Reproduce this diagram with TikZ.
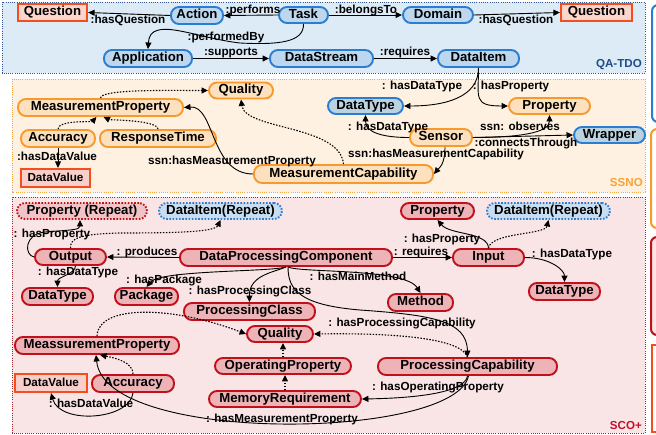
\documentclass[tikz,border=0pt]{standalone}
\usepackage{fontspec}
\setmainfont{Liberation Sans}
\usetikzlibrary{arrows.meta}
\definecolor{qabg}{HTML}{DDEBF7}
\definecolor{qaline}{HTML}{2F5597}
\definecolor{ssbg}{HTML}{FEF1E1}
\definecolor{ssline}{HTML}{F7A541}
\definecolor{scbg}{HTML}{F9E5E6}
\definecolor{scline}{HTML}{A0282E}
\definecolor{blueline}{HTML}{2A7DD1}
\definecolor{bluefill}{HTML}{BDD7EE}
\definecolor{greyfill}{HTML}{BBD3E1}
\definecolor{orangeline}{HTML}{F79A2E}
\definecolor{orangefill}{HTML}{FDE1BF}
\definecolor{redline}{HTML}{C0101A}
\definecolor{redfill}{HTML}{EDB3B7}
\definecolor{reddotfill}{HTML}{F2C3C6}
\definecolor{bluedotfill}{HTML}{C9DDF0}
\definecolor{qline}{HTML}{F24E1E}
\definecolor{qfill}{HTML}{FCD5CC}
\definecolor{dvfill}{HTML}{F9CFCB}
\definecolor{qatext}{HTML}{1F4E8A}
\definecolor{sstext}{HTML}{F7A334}
\definecolor{sctext}{HTML}{C0102A}
\begin{document}
\begin{tikzpicture}[x=1pt,y=-1pt,
  nodebase/.style={inner sep=0pt, text height=9.4pt, text depth=2.6pt, line width=1.9pt,
    font=\bfseries\fontsize{13.2pt}{14pt}\selectfont},
  bluepill/.style={nodebase, draw=blueline, fill=bluefill, rounded corners=8pt},
  greypill/.style={nodebase, draw=blueline, fill=greyfill, rounded corners=8pt},
  orangepill/.style={nodebase, draw=orangeline, fill=orangefill, rounded corners=8pt},
  redpill/.style={nodebase, draw=redline, fill=redfill, rounded corners=8pt},
  reddotpill/.style={redpill, fill=reddotfill, dash pattern=on 1.6pt off 1.6pt},
  bluedotpill/.style={nodebase, draw=blueline, fill=bluedotfill, rounded corners=8pt, dash pattern=on 1.6pt off 1.6pt},
  qrect/.style={nodebase, draw=qline, fill=qfill, line width=2.2pt},
  dvrect/.style={nodebase, draw=qline, fill=dvfill, line width=2.2pt,
    font=\bfseries\fontsize{11.7pt}{13pt}\selectfont, text height=8.4pt, text depth=2.3pt},
  lbl/.style={inner sep=0pt, font=\bfseries\fontsize{11.7pt}{13pt}\selectfont, text height=8.4pt, text depth=2.4pt},
  arr/.style={-{Triangle[length=6.5pt,width=6pt]}, line width=0.9pt, black},
  darr/.style={arr, line width=1.1pt, dash pattern=on 1.5pt off 1.5pt},
  region/.style={line width=0.9pt, dash pattern=on 1pt off 1.2pt},
  regtext/.style={inner sep=0pt, anchor=east, font=\bfseries\fontsize{11.6pt}{13pt}\selectfont},
  legbox/.style={line width=2pt}
]
\useasboundingbox (0,0) rectangle (656,434);
\clip (0,0) rectangle (656,434);
\fill[white] (0,0) rectangle (656,434);

% regions
\draw[region, draw=qaline, fill=qabg] (2,2) rectangle (645,73);
\draw[region, draw=ssline, fill=ssbg] (12,79) rectangle (645,192);
\draw[region, draw=scline, fill=scbg] (12,197) rectangle (645,433);
\node[regtext, text=qatext] (lqa) at (642,64.5) {QA-TDO};
\node[regtext, text=sstext] (lss) at (643,183) {SSNO};
\node[regtext, text=sctext] (lsc) at (642,426) {SCO+};

% partial legend boxes at the right edge
\draw[legbox, draw=blueline, fill=white, rounded corners=6pt] (652,5) rectangle (700,122);
\draw[legbox, draw=orangeline, fill=white, rounded corners=6pt] (651,129) rectangle (700,228);
\draw[legbox, draw=redline, fill=scbg, rounded corners=6pt] (651,237) rectangle (700,335);
\draw[legbox, draw=qline, fill=white] (652,345) rectangle (700,432);

% QA-TDO nodes
\node[qrect, minimum width=69pt, minimum height=17pt] (qL) at (52.5,12.5) {Question};
\node[bluepill, minimum width=52pt, minimum height=17pt] (action) at (197,15.5) {Action};
\node[bluepill, minimum width=49pt, minimum height=16pt] (task) at (303.5,15) {Task};
\node[bluepill, minimum width=70pt, minimum height=16pt] (domain) at (438,15) {Domain};
\node[qrect, minimum width=71pt, minimum height=17pt] (qR) at (596.5,12.5) {Question};
\node[bluepill, minimum width=88pt, minimum height=17pt] (app) at (148,58.5) {Application};
\node[bluepill, minimum width=103pt, minimum height=17pt] (ds) at (321.5,58.5) {DataStream};
\node[bluepill, minimum width=81pt, minimum height=17pt] (di) at (478.5,58.5) {DataItem};

% SSNO nodes
\node[orangepill, minimum width=64pt, minimum height=16pt] (qual1) at (241,90.5) {Quality};
\node[orangepill, minimum width=165pt, minimum height=17pt] (mp1) at (100.5,107.5) {MeasurementProperty};
\node[orangepill, minimum width=74pt, minimum height=17pt] (acc1) at (58,138.5) {Accuracy};
\node[orangepill, minimum width=116pt, minimum height=17pt] (rt) at (158,138.5) {ResponseTime};
\node[dvrect, minimum width=69pt, minimum height=18pt] (dv1) at (55.5,178) {DataValue};
\node[orangepill, minimum width=179pt, minimum height=18pt] (mc) at (343.5,174) {MeasurementCapability};
\node[greypill, minimum width=75pt, minimum height=16pt] (dt1) at (365.5,106) {DataType};
\node[orangepill, minimum width=81pt, minimum height=16pt] (prop1) at (549.5,106) {Property};
\node[orangepill, minimum width=62pt, minimum height=17pt] (sensor) at (441,137.5) {Sensor};
\node[greypill, minimum width=71pt, minimum height=16pt] (wrap) at (609.5,135) {Wrapper};

% SCO+ nodes
\node[reddotpill, minimum width=130pt, minimum height=16pt] (prR) at (82,211) {Property (Repeat)};
\node[bluedotpill, minimum width=123pt, minimum height=16pt] (diR1) at (220.5,211) {DataItem(Repeat)};
\node[redpill, minimum width=71pt, minimum height=16pt] (out) at (70.5,257) {Output};
\node[redpill, minimum width=212pt, minimum height=17pt] (dpc) at (286,257.5) {DataProcessingComponent};
\node[redpill, minimum width=71pt, minimum height=17pt] (inp) at (488.5,257.5) {Input};
\node[redpill, minimum width=73pt, minimum height=16pt] (prop2) at (437.5,211) {Property};
\node[bluedotpill, minimum width=123pt, minimum height=16pt] (diR2) at (548.5,211) {DataItem(Repeat)};
\node[redpill, minimum width=71pt, minimum height=17pt] (dt2) at (57.5,296.5) {DataType};
\node[redpill, minimum width=63pt, minimum height=17pt] (pkg) at (146.5,296.5) {Package};
\node[redpill, minimum width=71pt, minimum height=17pt] (dt3) at (564.5,291.5) {DataType};
\node[redpill, minimum width=65pt, minimum height=17pt] (meth) at (420.5,302.5) {Method};
\node[redpill, minimum width=131pt, minimum height=17pt] (pcls) at (249.5,311.5) {ProcessingClass};
\node[redpill, minimum width=66pt, minimum height=16pt] (qual2) at (280,334) {Quality};
\node[redpill, minimum width=164pt, minimum height=17pt] (mp2) at (97,345.5) {MeassurementProperty};
\node[redpill, minimum width=136pt, minimum height=16pt] (op) at (283,366) {OperatingProperty};
\node[dvrect, minimum width=72pt, minimum height=18pt] (dv2) at (51,383) {DataValue};
\node[redpill, minimum width=82pt, minimum height=17pt] (acc2) at (133,383.5) {Accuracy};
\node[redpill, minimum width=152pt, minimum height=16pt] (mr) at (285,399) {MemoryRequirement};
\node[redpill, minimum width=179pt, minimum height=17pt] (pcap) at (467.5,366.5) {ProcessingCapability};

% QA-TDO edges
\draw[arr] (action.west) -- (qL.east) node[lbl] at (128,20.5) {:hasQuestion};
\draw[arr] (task.west) -- (action.east) node[lbl] at (253,10) {:performs};
\draw[arr] (task.east) -- (domain.west) node[lbl] at (366,10) {:belongsTo};
\draw[arr] (domain.east) -- (qR.west) node[lbl] at (516,20) {:hasQuestion};
\draw[arr] (task.south) .. controls (304,42) and (280,45) .. (240,43) .. controls (195,38) and (150,15) .. (app.north) node[lbl] at (226,37) {:performedBy};
\draw[arr] (app.east) -- (ds.west) node[lbl] at (231,52) {:supports};
\draw[arr] (ds.east) -- (di.west) node[lbl] at (405,52) {:requires};

% SSNO edges
\draw[arr] (di.south) .. controls +(0,30) and +(40,0) .. (dt1.east) node[lbl] at (422,86.5) {: hasDataType};
\draw[arr] (di.south) .. controls +(0,30) and +(-35,0) .. (prop1.west) node[lbl] at (511,86.5) {: hasProperty};
\draw[arr] (sensor.west) .. controls +(-25,0) and +(0,18) .. (dt1.south) node[lbl] at (388,127) {: hasDataType};
\draw[arr] (sensor.east) .. controls +(45,0) and +(0,18) .. (prop1.south) node[lbl] at (520,127) {ssn: observes};
\draw[arr] (sensor.east) -- (wrap.west) node[lbl] at (526,143) {:connectsThrough};
\draw[arr] ([xshift=4pt]sensor.south) .. controls +(0,18) and +(5,-6) .. (mc.east) node[lbl] at (436,154) {ssn:hasMeasurementCapability};
\draw[arr] (mc.west) .. controls (210,174) and (215,105) .. (mp1.east) node[lbl] at (232,161) {ssn:hasMeasurementProperty};
\draw[darr] (mc.north) .. controls (340,125) and (245,130) .. (qual1.south);
\draw[darr] (mp1.north) .. controls +(0,-9) and +(-40,0) .. (qual1.west);
\draw[darr] (acc1.north) .. controls (58,120) and (92,122) .. ([xshift=-4pt]mp1.south);
\draw[darr] (rt.north) .. controls (157,120) and (110,120) .. ([xshift=3pt]mp1.south);
\draw[arr] (acc1.south) -- (acc1.south |- dv1.north) node[lbl] at (57,157.5) {:hasDataValue};

% SCO+ edges
\draw[arr] (dpc.west) -- (out.east) node[lbl] at (147,252) {: produces};
\draw[arr] (dpc.east) -- (inp.west) node[lbl] at (421,252) {: requires};
\draw[arr] (out.west) .. controls (24,255) and (24,234) .. (45,232) .. controls (70,230) and (80,230) .. ([xshift=-2pt]prR.south) node[lbl] at (52,234.5) {: hasProperty};
\draw[darr] (out.north) .. controls (70,238) and (80,234) .. (120,233) .. controls (175,233) and (215,232) .. (diR1.south);
\draw[arr] ([xshift=5pt]out.south) .. controls +(0,8) and +(0,-10) .. (dt2.north) node[lbl] at (78,272.5) {: hasDataType};
\draw[arr] (dpc.south) .. controls (270,272) and (160,270) .. (pkg.north) node[lbl] at (164,280) {: hasPackage};
\draw[arr] (dpc.south) .. controls (275,272) and (249,275) .. (pcls.north) node[lbl] at (250,291) {: hasProcessingClass};
\draw[arr] ([xshift=2pt]dpc.south) .. controls (300,273) and (405,268) .. (meth.north) node[lbl] at (358,277) {: hasMainMethod};
\draw[arr] ([xshift=2pt]dpc.south) .. controls (288,290) and (300,305) .. (360,310) .. controls (430,315) and (467,320) .. (pcap.north) node[lbl] at (402,323.5) {: hasProcessingCapability};
\draw[arr] (inp.north) .. controls (488,232) and (450,235) .. (prop2.south) node[lbl] at (442,239) {: hasProperty};
\draw[darr] (inp.north) .. controls (492,232) and (545,235) .. (diR2.south);
\draw[arr] (inp.east) .. controls +(25,0) and +(0,-12) .. (dt3.north) node[lbl] at (572,254.5) {: hasDataType};
\draw[darr] (mp2.north) .. controls (98,305) and (170,305) .. (qual2.west);
\draw[darr] (pcap.north) .. controls (460,336) and (380,333) .. (qual2.east);
\draw[darr] (op.north) -- (op.north |- qual2.south);
\draw[darr] (mr.north) -- (mr.north |- op.south);
\draw[arr] (pcap.south) .. controls (465,392) and (420,398) .. (mr.east) node[lbl] at (438,387.5) {: hasOperatingProperty};
\draw[arr] ([xshift=1pt]pcap.south) .. controls (455,440) and (105,445) .. ([xshift=-1pt]mp2.south) node[lbl] at (282,419) {: hasMeasurementProperty};
\draw[darr] (acc2.north) .. controls (133,362) and (115,358) .. ([xshift=3pt]mp2.south);
\draw[arr] (acc2.south) .. controls (130,420) and (60,425) .. (dv2.south) node[lbl] at (91,404) {: hasDataValue};
\end{tikzpicture}
\end{document}
